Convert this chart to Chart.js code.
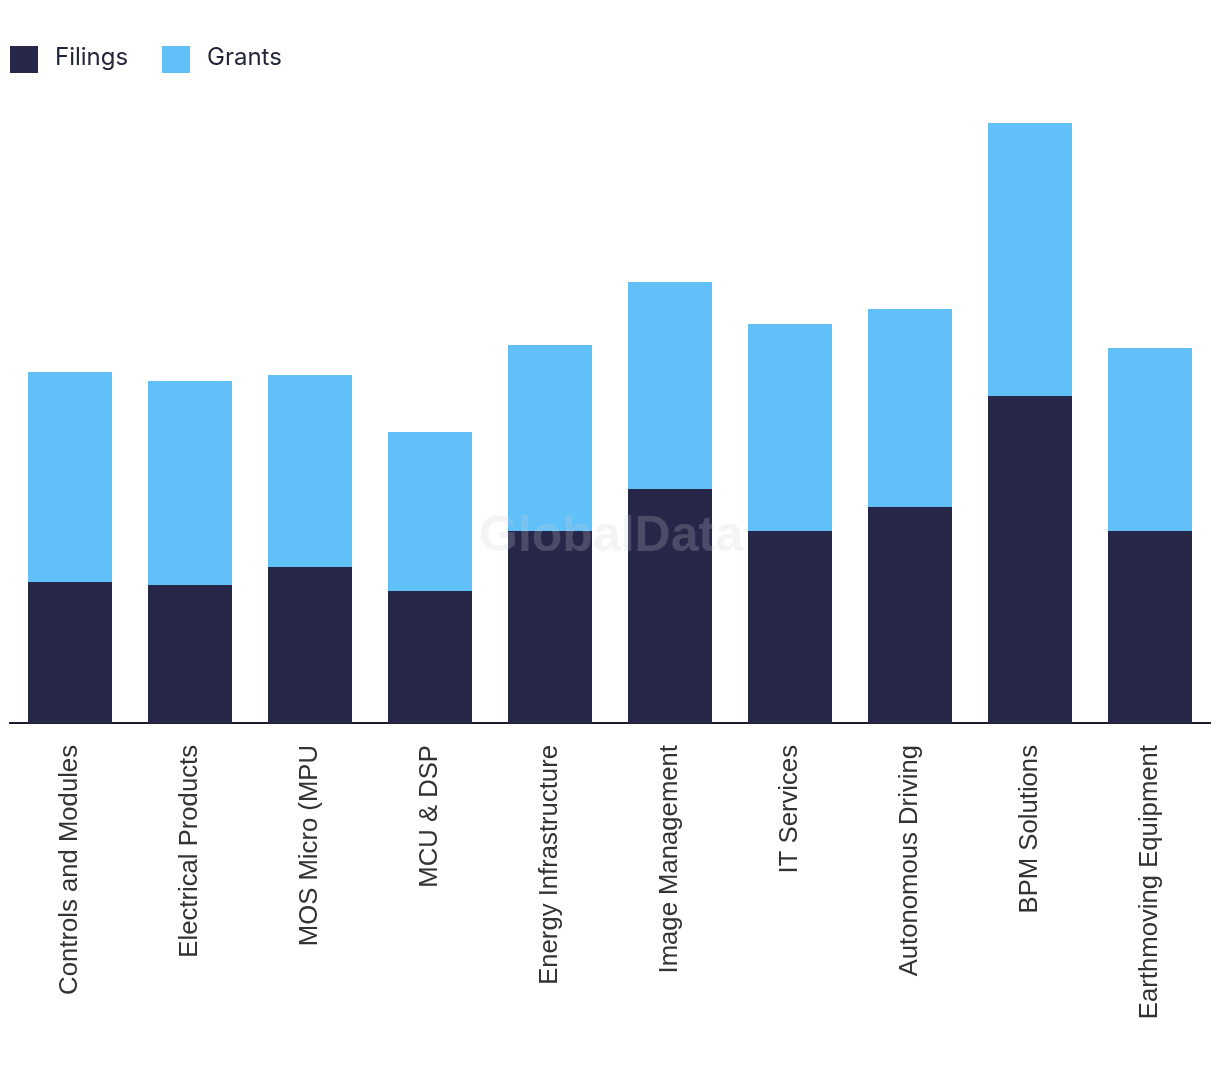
<!DOCTYPE html>
<html>
<head>
<meta charset="utf-8">
<script src="https://cdn.jsdelivr.net/npm/chart.js@4.4.1/dist/chart.umd.min.js"></script>
<style>
  html, body { margin: 0; padding: 0; background: #ffffff; }
  #wrap { position: relative; width: 1220px; height: 1072px; }
  #legend { position: absolute; top: 45px; left: 10px; height: 27px; font-family: Inter, "Noto Sans", sans-serif; font-size: 24px; color: #22243a; }
  .item { position: absolute; top: 0; height: 27px; white-space: nowrap; }
  .sw { position: absolute; left: 0; top: 1px; width: 28px; height: 27px; }
  .lbl { position: absolute; left: 45px; top: -2px; line-height: 27px; }
  canvas { position: absolute; left: 0; top: 0; }
</style>
</head>
<body>
<div id="wrap">
  <canvas id="c" width="1220" height="1072"></canvas>
  <div id="legend"></div>
</div>
<script>
const categories = [
  "Controls and Modules", "Electrical Products", "MOS Micro (MPU", "MCU & DSP",
  "Energy Infrastructure", "Image Management", "IT Services", "Autonomous Driving",
  "BPM Solutions", "Earthmoving Equipment"
];
const seriesNames = ["Filings", "Grants"];
const filings = [47, 46, 52, 44, 64, 78, 64, 72, 109, 64];
const grants  = [70, 68, 64, 53, 62, 69, 69, 66, 91, 61];
const seriesColors = ["#272849", "#61c0f8"];
const watermarkText = "GlobalData";

// HTML legend
const legendEl = document.getElementById('legend');
const legendX = [0, 152];
seriesNames.forEach((name, i) => {
  const it = document.createElement('div');
  it.className = 'item';
  it.style.left = legendX[i] + 'px';
  const sw = document.createElement('div');
  sw.className = 'sw';
  sw.style.background = seriesColors[i];
  const lb = document.createElement('span');
  lb.className = 'lbl';
  lb.textContent = name;
  it.appendChild(sw); it.appendChild(lb);
  legendEl.appendChild(it);
});

const watermark = {
  id: 'watermark',
  afterDatasetsDraw(chart) {
    const ctx = chart.ctx;
    ctx.save();
    ctx.font = 'bold 50px "Liberation Sans", Arial, sans-serif';
    ctx.textAlign = 'center';
    ctx.textBaseline = 'middle';
    ctx.fillStyle = 'rgba(205,205,210,0.22)';
    ctx.fillText(watermarkText, 611, 537);
    ctx.restore();
  }
};

new Chart(document.getElementById('c'), {
  type: 'bar',
  data: {
    labels: categories,
    datasets: [
      { label: seriesNames[0], data: filings, backgroundColor: seriesColors[0], barPercentage: 0.7, categoryPercentage: 1.0 },
      { label: seriesNames[1], data: grants, backgroundColor: seriesColors[1], barPercentage: 0.7, categoryPercentage: 1.0 }
    ]
  },
  options: {
    responsive: false,
    animation: false,
    devicePixelRatio: 1,
    layout: { padding: { top: 93, left: 0, right: 10, bottom: 0 } },
    plugins: { legend: { display: false }, tooltip: { enabled: false } },
    scales: {
      x: {
        stacked: true,
        grid: { display: false },
        border: { display: true, color: '#1c1c2c', width: 2 },
        ticks: {
          minRotation: 90, maxRotation: 90, autoSkip: false, padding: 14,
          color: '#333333',
          font: { family: '"Liberation Sans", Arial, sans-serif', size: 25.7 }
        },
        afterFit(s) { s.height = 349; }
      },
      y: {
        stacked: true,
        min: 0, max: 210,
        display: true,
        grid: { display: false },
        border: { display: false },
        ticks: { display: false },
        afterFit(s) { s.width = 10; }
      }
    }
  },
  plugins: [watermark]
});
</script>
</body>
</html>
